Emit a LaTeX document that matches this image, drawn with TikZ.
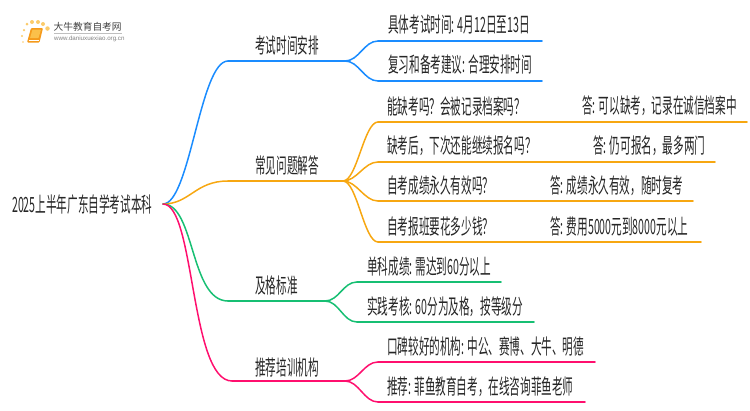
\documentclass[tikz,border=0pt]{standalone}
\usepackage{fontspec}
\setmainfont{Noto Sans CJK SC}[FakeStretch=0.505]
\newfontfamily\logofont{Noto Sans CJK SC}
\newfontfamily\urlfont{Liberation Sans}
\definecolor{cblue}{HTML}{1A8CFF}
\definecolor{corange}{HTML}{F7A711}
\definecolor{cgreen}{HTML}{17BF73}
\definecolor{cpink}{HTML}{FF0F6E}
\definecolor{ink}{HTML}{262626}
\definecolor{bookor}{HTML}{F59A1B}
\definecolor{bookli}{HTML}{FBC04A}
\definecolor{dotor}{HTML}{FBCB6B}
\tikzset{
  txt/.style={anchor=west,inner sep=0pt,text=ink,font=\fontsize{21}{21}\selectfont},
  wire/.style={line width=1.5pt,line cap=round},
  trunk/.style={line width=1.9pt,line cap=round},
  dot/.style={circle,fill=dotor,inner sep=0pt,draw=none}
}
\begin{document}
\begin{tikzpicture}[x=1pt,y=-1pt]
\useasboundingbox (0,0) rectangle (750,410);
% coordinates
\coordinate (rootp) at (163,204);
\foreach \n/\x/\y in {a/228/61,ae/345/61,b/228/181,be/343/181,c/228/301,ce/325/301,d/232/381,de/345/381,
 a1/378/41,a1e/542/41,a2/378/81,a2e/542/81,
 b1/378/122,b1e/747/122,b2/378/162,b2e/715/162,b3/378/201,b3e/693/201,b4/378/242,b4e/701/242,
 c1/357/282,c1e/501/282,c2/357/322,c2e/534/322,
 d1/378/362,d1e/595/362,d2/378/402,d2e/585/402}
 \coordinate (\n) at (\x,\y);
% trunks
\draw[wire,cblue] (rootp) .. controls (190,204) and (200,61) .. (a);
\draw[trunk,cblue] (a) -- (ae);
\draw[wire,corange] (rootp) .. controls (190,204) and (195,181) .. (b);
\draw[trunk,corange] (b) -- (be);
\draw[wire,cgreen] (rootp) .. controls (195,204) and (190,301) .. (c);
\draw[trunk,cgreen] (c) -- (ce);
\draw[wire,cpink] (rootp) .. controls (195,204) and (190,381) .. (d);
\draw[trunk,cpink] (d) -- (de);
% leaves
\foreach \s/\e/\t/\cc in {ae/a1/a1e/cblue,ae/a2/a2e/cblue,be/b1/b1e/corange,be/b2/b2e/corange,be/b3/b3e/corange,be/b4/b4e/corange,ce/c1/c1e/cgreen,ce/c2/c2e/cgreen,de/d1/d1e/cpink,de/d2/d2e/cpink}{
  \draw[wire,\cc] (\s) .. controls ([xshift=14pt]\s) and ([xshift=-14pt]\e) .. (\e);
  \draw[trunk,\cc] (\e) -- (\t);
}
% texts
\node[txt] (root) at (12,205) {2025上半年广东自学考试本科};
\node[txt] (la) at (255,45) {考试时间安排};
\node[txt] (lb) at (255,166) {常见问题解答};
\node[txt] (lc) at (255,286) {及格标准};
\node[txt] (ld) at (255,367) {推荐培训机构};
\node[txt] (ta1) at (388,25) {具体考试时间: 4月12日至13日};
\node[txt] (ta2) at (388,65) {复习和备考建议: 合理安排时间};
\node[txt] (tb1) at (387,106) {能缺考吗？会被记录档案吗？};
\node[txt] (tb1a) at (582,106) {答: 可以缺考，记录在诚信档案中};
\node[txt] (tb2) at (387,146) {缺考后，下次还能继续报名吗？};
\node[txt] (tb2a) at (593,146) {答: 仍可报名，最多两门};
\node[txt] (tb3) at (387,186) {自考成绩永久有效吗？};
\node[txt] (tb3a) at (550,186) {答: 成绩永久有效，随时复考};
\node[txt] (tb4) at (387,227) {自考报班要花多少钱？};
\node[txt] (tb4a) at (550,227) {答: 费用5000元到8000元以上};
\node[txt] (tc1) at (367,267) {单科成绩: 需达到60分以上};
\node[txt] (tc2) at (367,307) {实践考核: 60分为及格，按等级分};
\node[txt] (td1) at (387,347) {口碑较好的机构: 中公、赛博、大牛、明德};
\node[txt] (td2) at (387,387) {推荐: 菲鱼教育自考，在线咨询菲鱼老师};
% logo
\foreach \n/\x/\y/\r in {g1/27/24/3,g2/32/22/4,g3/38/22/4,g4/43/24/4,g5/47.5/28.5/4.5,g6/24/30/2.5,g7/22/36/2.2,g8/23/42/1.8}
  \node[dot,minimum size=\r pt] (\n) at (\x,\y) {};
\fill[bookor,rounded corners=1pt] (31,28) -- (43,28) -- (39.5,42.5) -- (27,42.5) -- cycle;
\fill[bookli,rounded corners=.5pt] (32.5,29.5) -- (41,29.5) -- (38.5,38) -- (30,38) -- cycle;
\draw[white,line width=.5pt] (28.5,40) -- (38.5,40);
\node[anchor=west,inner sep=0pt,text=black!75,font=\logofont\fontsize{9.7}{9.7}\selectfont] (lg1) at (53.5,27) {大牛教育自考网};
\draw[black!25,line width=.5pt] (54,33.5) -- (122,33.5);
\node[anchor=west,inner sep=0pt,text=black!50,font=\urlfont\fontsize{6.2}{6.2}\selectfont] (lg2) at (54,38.5) {www.daniuxuexiao.org.cn};
\end{tikzpicture}
\end{document}
